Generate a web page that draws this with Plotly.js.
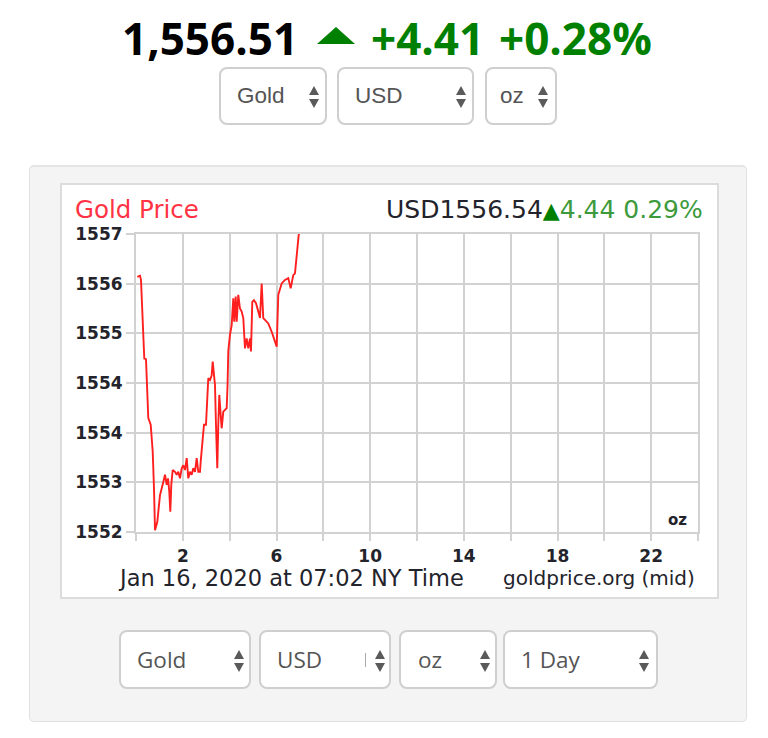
<!DOCTYPE html>
<html>
<head>
<meta charset="utf-8">
<script src="https://cdn.plot.ly/plotly-3.0.1.min.js"></script>
<style>
  html, body { margin:0; padding:0; background:#fff; }
  body { width:768px; height:738px; position:relative; overflow:hidden; }
  .hdr { position:absolute; top:8px; font-family:'Open Sans',sans-serif; font-weight:700; font-size:44px; line-height:60px; white-space:nowrap; }
  .tri { position:absolute; width:0; height:0; border-left:19px solid transparent; border-right:19px solid transparent; border-bottom:17px solid #008000; }
  .sel { position:absolute; box-sizing:border-box; border:2px solid #cfcfcf; border-radius:8px; background:#fff; color:#555; white-space:nowrap; }
  .sel .t { position:absolute; top:0; bottom:0; display:flex; align-items:center; }
  .sel .u { position:absolute; width:0; height:0; border-left:5px solid transparent; border-right:5px solid transparent; border-bottom:9px solid #5a5a5a; }
  .sel .d { position:absolute; width:0; height:0; border-left:5px solid transparent; border-right:5px solid transparent; border-top:9px solid #5a5a5a; }
  #panel { position:absolute; left:29px; top:165px; width:718px; height:557px; box-sizing:border-box; background:#f4f4f4; border:1px solid #e0e0e0; border-top:2px solid #e4e4e4; border-radius:5px; }
  #frame { position:absolute; left:60px; top:183px; width:659px; height:416px; box-sizing:border-box; border:2px solid #dcdcdc; background:#fff; }
  #chart { position:absolute; left:0; top:0; width:655px; height:412px; }
</style>
</head>
<body>
<div id="panel"></div>
<div id="frame"><div id="chart"></div></div>
<div id="hdrbox"></div>
<script>
// ---------- data ----------
const hours = [0.056, 0.171, 0.213, 0.354, 0.427, 0.525, 0.628, 0.713, 0.769, 0.811, 0.909, 1.025, 1.166, 1.238, 1.311, 1.366, 1.422, 1.465, 1.507, 1.567, 1.665, 1.738, 1.806, 1.879, 1.951, 2.020, 2.092, 2.165, 2.233, 2.306, 2.378, 2.447, 2.519, 2.592, 2.660, 2.733, 2.763, 2.848, 2.903, 2.989, 3.044, 3.087, 3.160, 3.232, 3.275, 3.330, 3.373, 3.416, 3.471, 3.514, 3.557, 3.617, 3.659, 3.728, 3.800, 3.873, 3.910, 3.941, 4.014, 4.086, 4.155, 4.197, 4.257, 4.300, 4.368, 4.441, 4.513, 4.582, 4.654, 4.727, 4.795, 4.868, 4.910, 4.966, 5.038, 5.124, 5.222, 5.295, 5.367, 5.435, 5.508, 5.649, 5.794, 5.935, 6.008, 6.076, 6.221, 6.362, 6.503, 6.606, 6.716, 6.789, 6.862, 6.947, 7.020];
const prices = [1556.28, 1556.30, 1556.23, 1554.91, 1554.90, 1553.91, 1553.80, 1553.35, 1552.73, 1552.03, 1552.17, 1552.62, 1552.84, 1552.96, 1552.79, 1552.90, 1552.68, 1552.34, 1552.79, 1553.04, 1553.01, 1552.96, 1553.01, 1552.90, 1553.07, 1553.12, 1553.04, 1553.24, 1552.90, 1553.01, 1552.96, 1553.07, 1553.01, 1553.24, 1553.01, 1553.01, 1553.18, 1553.63, 1553.80, 1553.80, 1554.30, 1554.58, 1554.55, 1554.63, 1554.86, 1554.58, 1554.47, 1553.80, 1553.07, 1553.80, 1554.30, 1553.96, 1553.74, 1554.02, 1554.05, 1554.08, 1554.47, 1555.03, 1555.31, 1555.47, 1555.92, 1555.53, 1555.95, 1555.53, 1555.98, 1555.75, 1555.70, 1555.59, 1555.08, 1555.25, 1555.08, 1555.25, 1555.03, 1555.86, 1555.89, 1555.84, 1555.70, 1555.59, 1556.17, 1555.59, 1555.56, 1555.50, 1555.36, 1555.19, 1555.11, 1555.98, 1556.17, 1556.23, 1556.26, 1556.09, 1556.31, 1556.34, 1556.65, 1556.98, 1557.10];
const yTickText = ['1552', '1553', '1554', '1554', '1555', '1556', '1557'];
const xTickText = ['', '2', '', '6', '', '10', '', '14', '', '18', '', '22', ''];
const seriesTitle = 'Gold Price';
const currency = 'USD';
const chartPrice = '1556.54';
const chartChange = '4.44';
const chartPct = '0.29%';
const dateLabel = 'Jan 16, 2020 at 07:02 NY Time';
const sourceLabel = 'goldprice.org (mid)';
const unitLabel = 'oz';
const headPrice = '1,556.51';
const headChange = '+4.41';
const headPct = '+0.28%';
const topSelects = ['Gold', 'USD', 'oz'];
const bottomSelects = ['Gold', 'USD', 'oz', '1 Day'];

// ---------- header & selects (HTML) ----------
const hdrBox = document.getElementById('hdrbox');
function addHead(txt, left, color) {
  const s = document.createElement('div');
  s.className = 'hdr'; s.textContent = txt; s.style.left = left + 'px'; s.style.color = color;
  hdrBox.appendChild(s);
}
addHead(headPrice, 122, '#000');
const triEl = document.createElement('div'); triEl.className = 'tri';
triEl.style.left = '317px'; triEl.style.top = '27px'; hdrBox.appendChild(triEl);
addHead(headChange, 371, '#008000');
addHead(headPct, 499, '#008000');

function makeSel(label, box, font) {
  const d = document.createElement('div'); d.className = 'sel';
  d.style.left = box[0] + 'px'; d.style.top = box[1] + 'px';
  d.style.width = box[2] + 'px'; d.style.height = box[3] + 'px';
  const t = document.createElement('div'); t.className = 't'; t.textContent = label;
  t.style.left = box[4] + 'px'; t.style.fontFamily = font[0]; t.style.fontSize = font[1] + 'px';
  d.appendChild(t);
  const cy = box[3] / 2 - 2;
  const u = document.createElement('div'); u.className = 'u';
  u.style.left = (box[5] - 5) + 'px'; u.style.top = (cy - 10) + 'px'; d.appendChild(u);
  const dn = document.createElement('div'); dn.className = 'd';
  dn.style.left = (box[5] - 5) + 'px'; dn.style.top = (cy + 3) + 'px'; d.appendChild(dn);
  document.body.appendChild(d);
  return d;
}
const topBoxes = [[219, 67, 108, 58, 16, 93], [337, 67, 137, 58, 16, 122], [485, 67, 72, 58, 13, 56]];
topSelects.forEach((s, i) => makeSel(s, topBoxes[i], ["'Liberation Sans', Arial, sans-serif", 22.5]));
const botBoxes = [[119, 630, 132, 59, 16, 118], [259, 630, 132, 59, 16, 119], [399, 630, 98, 59, 17, 84], [503, 630, 155, 59, 16, 139]];
bottomSelects.forEach((s, i) => {
  const d = makeSel(s, botBoxes[i], ["'Open Sans', sans-serif", 22.5]);
  if (i === 1) {
    const bar = document.createElement('div');
    bar.style.cssText = 'position:absolute;left:104px;top:21px;width:1px;height:14px;background:#aaa;';
    d.appendChild(bar);
  }
});

// ---------- chart (Plotly) ----------
const W = 655, H = 412, ML = 74, MR = 19, MT = 49, MB = 65;
const PW = W - ML - MR, PH = H - MT - MB;
const pxX = x => (x - ML) / PW;
const pxY = y => 1 - (y - MT) / PH;
const yMin = 1552, yMax = 1557, xMax = 24;
const yTickVals = yTickText.map((_, i) => yMin + i * (yMax - yMin) / (yTickText.length - 1));
const xTickVals = xTickText.map((_, i) => i * 2);
const grid = '#d2d2d2';
const textDark = '#23232b';
const tickFont = { family: 'DejaVu Sans', size: 17, color: textDark, weight: 'bold' };

const trace = {
  x: hours, y: prices, type: 'scatter', mode: 'lines',
  line: { color: '#ff1f1f', width: 1.9 }, hoverinfo: 'skip'
};

const layout = {
  width: W, height: H,
  margin: { l: ML, r: MR, t: MT, b: MB, pad: 0 },
  paper_bgcolor: '#fff', plot_bgcolor: '#fff', showlegend: false,
  xaxis: {
    range: [0, xMax], tickvals: xTickVals, ticktext: xTickText,
    showgrid: true, gridcolor: grid, gridwidth: 2, zeroline: false,
    showline: true, mirror: true, linecolor: grid, linewidth: 2,
    ticks: 'outside', ticklen: 7, tickwidth: 2, tickcolor: grid,
    tickfont: tickFont, fixedrange: true, ticklabelstandoff: 1
  },
  yaxis: {
    range: [yMin, yMax], tickvals: yTickVals, ticktext: yTickText,
    showgrid: true, gridcolor: grid, gridwidth: 2, zeroline: false,
    showline: true, mirror: true, linecolor: grid, linewidth: 2,
    ticks: 'outside', ticklen: 8, tickwidth: 2, tickcolor: grid,
    tickfont: tickFont, fixedrange: true, ticklabelstandoff: 0
  },
  annotations: [
    { text: seriesTitle, xref: 'paper', yref: 'paper', x: pxX(11), y: pxY(24), xanchor: 'left', yanchor: 'middle',
      showarrow: false, font: { family: 'DejaVu Sans', size: 24.5, color: '#ff3344' } },
    { text: currency + chartPrice + '<span style="color:#008000;font-size:22px">▲</span><span style="color:#3d9a3d">' + chartChange + ' ' + chartPct + '</span>',
      xref: 'paper', yref: 'paper', x: pxX(643), y: pxY(24), xanchor: 'right', yanchor: 'middle',
      showarrow: false, font: { family: 'DejaVu Sans', size: 25, color: textDark } },
    { text: dateLabel, xref: 'paper', yref: 'paper', x: pxX(54), y: pxY(393), xanchor: 'left', yanchor: 'middle',
      showarrow: false, font: { family: 'DejaVu Sans', size: 22.5, color: textDark } },
    { text: sourceLabel, xref: 'paper', yref: 'paper', x: pxX(635), y: pxY(393), xanchor: 'right', yanchor: 'middle',
      showarrow: false, font: { family: 'DejaVu Sans', size: 20, color: textDark } },
    { text: unitLabel, xref: 'paper', yref: 'paper', x: pxX(627), y: pxY(335), xanchor: 'right', yanchor: 'middle',
      showarrow: false, font: { family: 'DejaVu Sans', size: 15, color: textDark, weight: 'bold' } }
  ]
};

Plotly.newPlot('chart', [trace], layout, { staticPlot: true, displayModeBar: false });
</script>
</body>
</html>
